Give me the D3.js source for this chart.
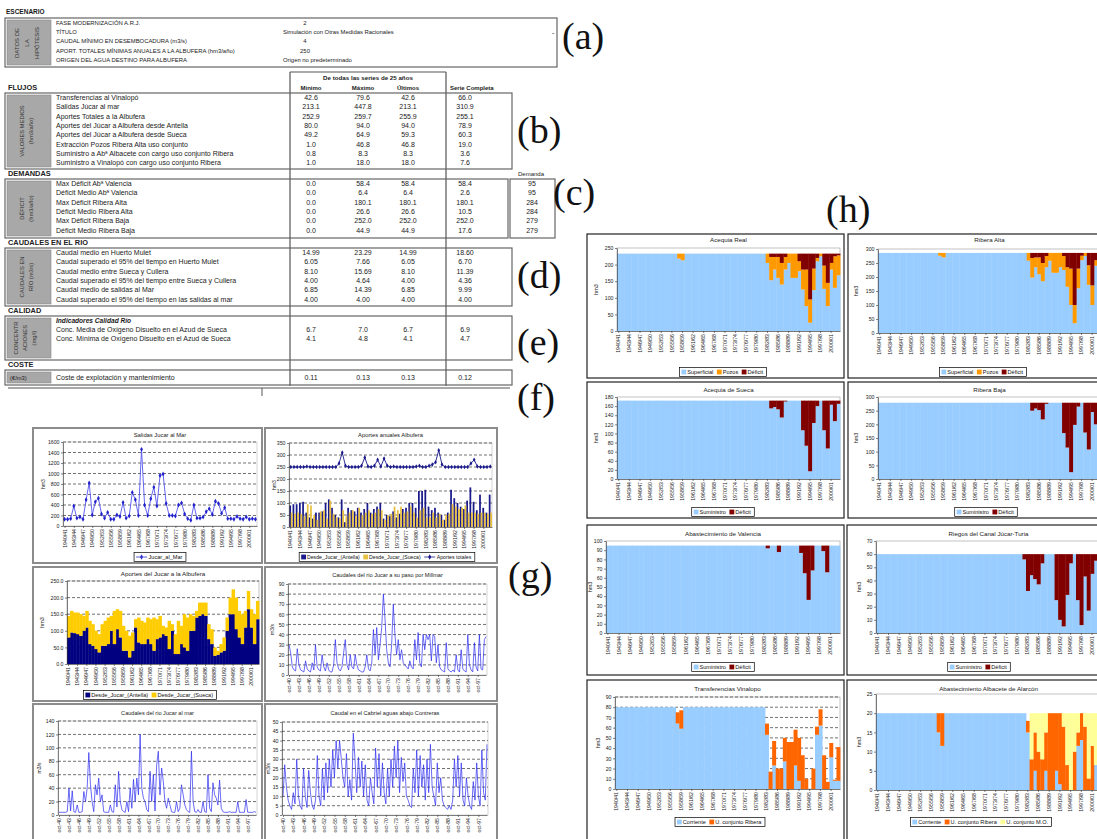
<!DOCTYPE html>
<meta charset="utf-8">
<script src="https://d3js.org/d3.v7.min.js"></script>
<style>
  body { margin: 0; background: #fff; }
  svg { display: block; font-family: "Liberation Sans", Arial, sans-serif; }
  .ax text { font-size: 5.2px; fill: #222; font-family: "Liberation Sans", Arial, sans-serif; }
  .ax path, .ax line { stroke: #333; stroke-width: 0.6; }
</style>
<div id="chart"></div>
<script>
// ---------- table data ----------
var scenarioLabels = ["FASE MODERNIZACIÓN A.R.J.", "TÍTULO", "CAUDAL MÍNIMO EN DESEMBOCADURA (m3/s)",
  "APORT. TOTALES MÍNIMAS ANUALES A LA ALBUFERA (hm3/año)", "ORIGEN DEL AGUA DESTINO PARA ALBUFERA"];
var scenarioValues = ["2", "Simulación con Otras Medidas Racionales", "4", "250", "Origen no predeterminado"];

var flujosLabels = ["Transferencias al Vinalopó", "Salidas Júcar al mar", "Aportes Totales a la Albufera",
  "Aportes del Júcar a Albufera desde Antella", "Aportes del Júcar a Albufera desde Sueca",
  "Extracción Pozos Ribera Alta uso conjunto", "Suministro a Abª Albacete con cargo uso conjunto Ribera",
  "Suministro a Vinalopó con cargo uso conjunto Ribera"];
var flujosMin = ["42.6", "213.1", "252.9", "80.0", "49.2", "1.0", "0.8", "1.0"];
var flujosMax = ["79.6", "447.8", "259.7", "94.0", "64.9", "46.8", "8.3", "18.0"];
var flujosUlt = ["42.6", "213.1", "255.9", "94.0", "59.3", "46.8", "8.3", "18.0"];
var flujosSerie = ["66.0", "310.9", "255.1", "78.9", "60.3", "19.0", "3.6", "7.6"];

var demLabels = ["Max Déficit Abª Valencia", "Déficit Medio Abª Valencia", "Max Déficit Ribera Alta",
  "Déficit Medio Ribera Alta", "Max Déficit Ribera Baja", "Déficit Medio Ribera Baja"];
var demMin = ["0.0", "0.0", "0.0", "0.0", "0.0", "0.0"];
var demMax = ["58.4", "6.4", "180.1", "26.6", "252.0", "44.9"];
var demUlt = ["58.4", "6.4", "180.1", "26.6", "252.0", "44.9"];
var demSerie = ["58.4", "2.6", "180.1", "10.5", "252.0", "17.6"];
var demDemanda = ["95", "95", "284", "284", "279", "279"];

var caudLabels = ["Caudal medio en Huerto Mulet", "Caudal superado el 95% del tiempo en Huerto Mulet",
  "Caudal medio entre Sueca y Cullera", "Caudal superado el 95% del tiempo entre Sueca y Cullera",
  "Caudal medio de salidas al Mar", "Caudal superado el 95% del tiempo en las salidas al mar"];
var caudMin = ["14.99", "6.05", "8.10", "4.00", "6.85", "4.00"];
var caudMax = ["23.29", "7.66", "15.69", "4.64", "14.39", "4.00"];
var caudUlt = ["14.99", "6.05", "8.10", "4.00", "6.85", "4.00"];
var caudSerie = ["18.60", "6.70", "11.39", "4.36", "9.99", "4.00"];

var calLabels = ["Conc. Media de Oxígeno Disuelto en el Azud de Sueca", "Conc. Mínima de Oxígeno Disuelto en el Azud de Sueca"];
var calMin = ["6.7", "4.1"], calMax = ["7.0", "4.8"], calUlt = ["6.7", "4.1"], calSerie = ["6.9", "4.7"];

var costeLabels = ["Coste de explotación y mantenimiento"];
var costeMin = ["0.11"], costeMax = ["0.13"], costeUlt = ["0.13"], costeSerie = ["0.12"];

// ---------- chart data (hydrological years 1940/41 ...) ----------
var years = d3.range(1940, 2003).map(function(y) { return y + "/" + String((y + 1) % 100).padStart(2, "0"); });

var salidasMar = [130,130,140,380,150,170,130,500,820,210, 460,530,230,150,260,130,130,210,180,450,
  150,190,640,500,200,1460,400,200,520,740, 380,960,990,430,200,200,190,400,440,230,
  140,110,400,150,150,170,270,330,220,470, 430,240,350,140,140,130,180,140,130,170, 130,140,130];

var albTotal = [250,250,250,250,250,252,250,250,250,250, 250,250,250,250,250,265,310,255,250,250,
  250,250,255,290,252,250,255,280,252,285, 255,250,252,250,250,250,250,250,250,252,
  255,250,250,255,260,270,320,260,250,250, 250,250,250,250,250,250,265,280,252,250, 250,250,252];
var albAntella = [90,95,95,100,105,60,40,35,60,60, 65,100,115,80,50,40,115,20,80,70,
  65,80,60,75,100,60,75,85,100,35, 50,45,65,40,55,75,80,100,100,80,
  150,150,155,85,70,80,60,50,30,60, 155,120,100,85,75,110,165,105,70,135, 80,60,135];
var albSueca = [60,55,60,55,45,95,90,50,30,65, 70,35,110,55,40,35,70,45,60,70,
  45,80,50,60,70,55,60,75,70,30, 50,55,85,70,85,60,65,85,60,40,
  70,80,40,40,60,40,55,30,50,55, 95,85,75,80,90,60,60,60,55,60, 60,55,60];

var jucAntella = [80,95,93,90,85,100,110,60,55,45, 35,55,55,60,100,60,105,80,40,40,
  20,40,110,65,60,60,75,60,40,75, 80,90,85,45,100,30,30,60,50,40,
  100,100,140,145,150,145,75,60,25,28, 35,40,100,150,150,105,80,60,110,165, 110,60,135];
var jucSueca = [65,65,62,65,65,45,50,70,65,55, 55,65,75,80,45,100,60,80,75,60,
  65,55,25,75,70,65,65,75,100,60, 65,25,25,85,20,60,100,55,100,100,
  50,45,20,40,35,40,45,45,25,12, 25,40,40,50,75,95,80,90,50,55, 55,90,55];

var millmar = [30,22,8,5,4,26,10,5,4,3, 14,6,4,3,12,5,30,8,5,4, 20,8,4,12,5,3,3,10,35,12,
  6,4,8,22,35,10,5,20,8,6, 20,10,5,4,3,3,8,20,6,4, 12,45,20,47,15,30,47,80,55,25,
  12,8,30,70,40,20,35,15,25,12, 10,8,6,14,8,6,35,15,42,12, 8,40,25,40,35,40,14,40,38,12,
  30,8,5,4,3,32,6,4,3,5, 3,20,5,3,25,6,4,3,40,10, 5,3,32,8,4,40,6,5,35,38];
var alMar = [4,4,4,4,4,5,40,6,36,5, 4,15,4,4,5,35,20,40,93,45, 20,5,45,30,55,20,30,5,4,4,
  4,15,5,4,45,12,65,20,8,5, 4,20,5,40,10,53,20,55,30,120, 40,25,20,8,5,65,20,60,6,75,
  95,30,70,50,20,10,25,15,5,4, 4,20,5,10,45,30,15,8,5,4, 95,20,5,4,8,4,4,20,5,4,
  60,10,5,48,30,25,15,52,10,5, 4,4,4,5,4,4,4,4,20,4, 4,4,4,23,4,4,4,4,5,4];
var cabriel = [10,27,15,8,5,3,12,6,30,10, 5,3,25,10,4,24,12,5,3,8, 32,10,5,25,8,28,12,30,15,35,
  20,40,25,40,30,20,15,33,10,19, 8,44,30,12,31,15,29,10,27,8, 5,20,12,6,36,15,33,10,28,12,
  6,25,10,30,15,37,20,40,12,31, 18,28,10,8,5,4,25,12,35,10, 32,15,27,8,30,12,38,15,10,5,
  28,12,20,8,5,4,3,5,3,8, 30,15,32,10,28,8,5,20,10,5, 3,18,8,28,10,5,35,12,8,38];

var arSup = [233,233,233,233,233,233,233,233,233,233, 233,233,233,233,233,233,233,218,213,233,
  233,233,233,233,233,233,233,233,233,233, 233,233,233,233,233,233,233,233,233,233,
  233,233,205,153,185,160,140,185,205,160, 160,180,125,75,25,123,210,225,127,75, 185,130,168];
var arPoz = [0,0,0,0,0,0,0,0,0,0, 0,0,0,0,0,0,0,15,20,0, 0,0,0,0,0,0,0,0,0,0, 0,0,0,0,0,0,0,0,0,0,
  0,0,28,70,38,63,65,38,28,73, 73,30,60,110,70,65,10,8,70,70, 20,95,60];
var arDef = [0,0,0,0,0,0,0,0,0,0, 0,0,0,0,0,0,0,0,0,0, 0,0,0,0,0,0,0,0,0,0, 0,0,0,0,0,0,0,0,0,0,
  0,0,0,10,10,10,28,10,0,0, 0,23,48,48,138,45,13,0,36,88, 28,8,5];

var raSup = [286,286,286,286,286,286,286,286,286,286, 286,286,286,286,286,286,286,276,270,286,
  286,286,286,286,286,286,286,286,286,286, 286,286,286,286,286,286,286,286,286,286,
  286,286,258,198,235,210,185,235,258,215, 215,235,225,165,100,35,160,260,275,172, 100,240,180];
var raPoz = [0,0,0,0,0,0,0,0,0,0, 0,0,0,0,0,0,0,10,16,0, 0,0,0,0,0,0,0,0,0,0, 0,0,0,0,0,0,0,0,0,0,
  0,0,28,70,35,60,65,40,28,71, 71,51,50,70,130,65,70,16,11,70, 70,20,80];
var raDef = [0,0,0,0,0,0,0,0,0,0, 0,0,0,0,0,0,0,0,0,0, 0,0,0,0,0,0,0,0,0,0, 0,0,0,0,0,0,0,0,0,0,
  0,0,0,18,16,16,36,11,0,0, 0,0,11,51,56,186,56,10,0,44, 116,26,26];

var suSup = [172,172,172,172,172,172,172,172,172,172, 172,172,172,172,172,172,172,172,172,172,
  172,172,172,172,172,172,172,172,172,172, 172,172,172,172,172,172,172,172,172,172,
  172,172,172,155,158,153,135,170,172,172, 172,172,107,73,17,123,160,172,107,67, 163,127,165];
var suDef = [0,0,0,0,0,0,0,0,0,0, 0,0,0,0,0,0,0,0,0,0, 0,0,0,0,0,0,0,0,0,0, 0,0,0,0,0,0,0,0,0,0,
  0,0,0,17,14,19,37,2,0,0, 0,0,65,99,155,49,12,0,65,105, 9,45,7];

var rbSup = [279,279,279,279,279,279,279,279,279,279, 279,279,279,279,279,279,279,279,279,279,
  279,279,279,279,279,279,279,279,279,279, 279,279,279,279,279,279,279,279,279,279,
  279,279,279,250,258,252,218,275,279,279, 279,279,168,115,25,198,265,279,170,108, 245,200,265];
var rbDef = [0,0,0,0,0,0,0,0,0,0, 0,0,0,0,0,0,0,0,0,0, 0,0,0,0,0,0,0,0,0,0, 0,0,0,0,0,0,0,0,0,0,
  0,0,0,29,21,27,61,4,0,0, 0,0,111,164,254,81,14,0,109,171, 34,79,14];

var vaSup = [95,95,95,95,95,95,95,95,95,95, 95,95,95,95,95,95,95,95,95,95, 95,95,95,95,95,95,95,95,95,95,
  95,95,95,95,95,95,95,95,95,95, 95,95,95,92,95,95,88,95,95,95, 95,95,87,65,36,68,95,95,89,66, 95,95,95];
var vaDef = [0,0,0,0,0,0,0,0,0,0, 0,0,0,0,0,0,0,0,0,0, 0,0,0,0,0,0,0,0,0,0, 0,0,0,0,0,0,0,0,0,0,
  0,0,0,3,0,0,7,0,0,0, 0,0,8,30,59,27,0,0,6,29, 0,0,0];

var ctSup = [60,60,60,60,60,60,60,60,60,60, 60,60,60,60,60,60,60,60,60,60, 60,60,60,60,60,60,60,60,60,60,
  60,60,60,60,60,60,60,60,60,60, 60,56,32,44,41,37,53,60,60,60, 25,10,5,29,53,60,25,6,43,17, 45,55,50];
var ctDef = [0,0,0,0,0,0,0,0,0,0, 0,0,0,0,0,0,0,0,0,0, 0,0,0,0,0,0,0,0,0,0, 0,0,0,0,0,0,0,0,0,0,
  0,4,28,16,19,23,7,0,0,0, 35,50,55,31,7,0,35,54,17,43, 15,5,10];

var viCor = [80,80,80,80,80,80,80,80,80,80, 80,80,80,80,80,80,80,64,59,80, 80,80,80,80,80,80,80,80,80,80,
  80,80,80,80,80,80,80,80,80,80, 80,80,53,0,23,0,0,27,0,0, 23,8,0,0,0,0,53,62,0,0, 31,8,8];
var viRib = [0,0,0,0,0,0,0,0,0,0, 0,0,0,0,0,0,0,11,18,0, 0,0,0,0,0,0,0,0,0,0, 0,0,0,0,0,0,0,0,0,0,
  0,0,11,17,24,20,20,23,46,46, 35,42,33,10,0,20,8,16,33,7, 14,1,33];

var abCor = [20,20,20,20,20,20,20,20,20,20, 20,20,20,20,20,20,20,15,11.5,20, 20,20,20,20,20,20,20,20,20,20,
  20,20,20,20,20,20,20,20,20,20, 20,20,15,0,5,0,0,5,0,0, 5,1.5,0,0,0,0,11.5,13,0,0, 0,6.5,0];
var abRib = [0,0,0,0,0,0,0,0,0,0, 0,0,0,0,0,0,0,5,8.5,0, 0,0,0,0,0,0,0,0,0,0, 0,0,0,0,0,0,0,0,0,0,
  0,0,3,8,10,10,8,10,20,20, 15,18.5,16.5,6.5,0,10,3.5,7,16.5,3, 11.5,0,3];
var abMO = [0,0,0,0,0,0,0,0,0,0, 0,0,0,0,0,0,0,0,0,0, 0,0,0,0,0,0,0,0,0,0, 0,0,0,0,0,0,0,0,0,0,
  0,0,0,12,5,10,12,5,0,0, 0,0,3.5,13.5,20,10,5,0,3.5,17, 8.5,13.5,17];

// ---------- colours ----------
var cBlue = "#99ccff", cPozos = "#ff9900", cDef = "#800000", cRib = "#ff6600", cMO = "#ffff99";
var cNavy = "#000080", cGold = "#ffcc00";

var svg = d3.select("#chart").append("svg").attr("width", 1097).attr("height", 839);
svg.append("rect").attr("width", 1097).attr("height", 839).attr("fill", "#fff");

function txt(x, y, s, o) {
  o = o || {};
  var t = svg.append("text").attr("x", x).attr("y", y).text(s)
    .attr("font-size", o.size || 7)
    .attr("text-anchor", o.anchor || "start")
    .attr("fill", o.fill || "#1a1a1a");
  if (o.bold) t.attr("font-weight", "bold");
  if (o.italic) t.attr("font-style", "italic");
  if (o.family) t.attr("font-family", o.family);
  if (o.rot) t.attr("transform", "rotate(" + o.rot + "," + x + "," + y + ")");
  return t;
}
function rect(x0, y0, x1, y1, fill, stroke, sw) {
  return svg.append("rect").attr("x", x0).attr("y", y0).attr("width", x1 - x0).attr("height", y1 - y0)
    .attr("fill", fill).attr("stroke", stroke || "none").attr("stroke-width", sw || 1);
}
function line(x1, y1, x2, y2, stroke, sw) {
  svg.append("line").attr("x1", x1).attr("y1", y1).attr("x2", x2).attr("y2", y2)
    .attr("stroke", stroke).attr("stroke-width", sw);
}

// ================= TABLE =================
var colX = [311, 363, 408, 465];

txt(6, 14, "ESCENARIO", { bold: true, size: 6.5 });
rect(5, 18, 557, 67, "#fff", "#666", 1.2);
rect(7, 20, 51, 65, "#a8a8a8", "#888", 0.6);
["DATOS DE", "LA", "HIPÓTESIS"].forEach(function(s, i) {
  txt(19 + i * 10, 43, s, { rot: -90, anchor: "middle", size: 6, fill: "#333" });
});
scenarioLabels.forEach(function(s, i) { txt(56, 25 + i * 9.2, s, { size: 5.9 }); });
scenarioValues.forEach(function(s, i) {
  if (i === 1 || i === 4) txt(283, 25 + i * 9.2, s, { size: 5.9 });
  else txt(305, 25 + i * 9.2, s, { anchor: "middle", size: 5.9 });
});
txt(552, 35, "-", { size: 7 });

// column header + long vertical rules
line(290, 72, 446, 72, "#555", 1.2);
line(290, 72, 290, 386, "#555", 1.2);
line(446, 72, 446, 386, "#555", 1.2);
txt(368, 80, "De todas las series de 25 años", { bold: true, anchor: "middle", size: 6.2 });
["Mínimo", "Máximo", "Últimos"].forEach(function(s, i) { txt(colX[i], 89.5, s, { bold: true, anchor: "middle", size: 6 }); });
txt(450, 89.5, "Serie Completa", { bold: true, size: 6 });

function section(title, ty, y0, y1, x1, side, labels, cols, r0, dy, sideX) {
  txt(8, ty, title, { bold: true, size: 7.4, fill: "#222" });
  rect(5, y0, x1, y1, "none", "#666", 1.2);
  rect(7, y0 + 2, 51, y1 - 2, "#a8a8a8", "#888", 0.6);
  side.forEach(function(s, i) {
    txt(sideX[i], (y0 + y1) / 2, s, { rot: -90, anchor: "middle", size: 5.8, fill: "#333" });
  });
  labels.forEach(function(s, i) { txt(56, r0 + i * dy, s); });
  cols.forEach(function(c, j) {
    c.forEach(function(v, i) { txt(colX[j], r0 + i * dy, v, { anchor: "middle" }); });
  });
}

section("FLUJOS", 90, 93, 169, 512, ["VALORES MEDIOS", "(hm3/año)"], flujosLabels,
  [flujosMin, flujosMax, flujosUlt, flujosSerie], 100, 9.3, [24, 33]);

section("DEMANDAS", 176, 179, 238, 508, ["DÉFICIT", "(hm3/año)"], demLabels,
  [demMin, demMax, demUlt, demSerie], 186, 9.3, [24, 33]);
txt(518, 176, "Demanda", { size: 6 });
rect(510, 179, 555, 238, "none", "#666", 1.2);
demDemanda.forEach(function(v, i) { txt(532, 186 + i * 9.3, v, { anchor: "middle" }); });

section("CAUDALES EN EL RIO", 245, 248, 306, 512, ["CAUDALES EN", "RÍO (m3/s)"], caudLabels,
  [caudMin, caudMax, caudUlt, caudSerie], 255, 9.3, [24, 33]);

section("CALIDAD", 313, 316, 360, 512, ["CONCENTR", "ACIONES", "(mg/l)"], calLabels,
  [calMin, calMax, calUlt, calSerie], 332, 9.3, [18, 27, 36]);
txt(56, 323, "Indicadores Calidad Río", { italic: true, bold: true, size: 6.6 });

txt(8, 367, "COSTE", { bold: true, size: 7.4, fill: "#222" });
rect(5, 370, 512, 385, "none", "#666", 1.2);
rect(7, 372, 51, 383, "#a8a8a8", "#888", 0.6);
txt(10, 380, "(€/m3)", { size: 5.8 });
costeLabels.forEach(function(s) { txt(56, 380, s); });
[costeMin, costeMax, costeUlt, costeSerie].forEach(function(c, j) { txt(colX[j], 380, c[0], { anchor: "middle" }); });
line(8, 388, 510, 388, "#555", 1);
line(262, 388, 262, 396, "#555", 1);

// ================= CHART HELPERS =================
function yAxis(x0, y, ticks, fmt) {
  svg.append("g").attr("class", "ax").attr("transform", "translate(" + x0 + ",0)")
    .call(d3.axisLeft(y).tickValues(ticks).tickSize(2).tickSizeOuter(0).tickPadding(1.5).tickFormat(fmt || d3.format("d")));
}
function xAxisRot(yPos, scale, vals, fmt) {
  var ax = d3.axisBottom(scale).tickValues(vals).tickSize(2).tickSizeOuter(0);
  if (fmt) ax.tickFormat(fmt);
  svg.append("g").attr("class", "ax").attr("transform", "translate(0," + yPos + ")").call(ax)
    .selectAll("text").attr("transform", "rotate(-90)").attr("text-anchor", "end")
    .attr("x", -3).attr("y", 0).attr("dy", "0.32em");
}
function legend(cx, cy, items, fs) {
  var g = svg.append("g");
  var x = 2;
  items.forEach(function(it) {
    if (it.type === "line") {
      g.append("line").attr("x1", x).attr("x2", x + 11).attr("y1", 0).attr("y2", 0).attr("stroke", it.color).attr("stroke-width", 0.8);
      g.append("path").attr("d", d3.symbol(d3.symbolDiamond, 8)()).attr("transform", "translate(" + (x + 5.5) + ",0)").attr("fill", it.color);
      x += 12.5;
    } else {
      g.append("rect").attr("x", x).attr("y", -2.4).attr("width", 4.8).attr("height", 4.8).attr("fill", it.color);
      x += 5.8;
    }
    var t = g.append("text").attr("x", x).attr("y", 2).attr("font-size", fs || 5.6).attr("fill", "#111").text(it.name);
    x += t.node().getComputedTextLength() + 3.5;
  });
  g.insert("rect", ":first-child").attr("x", 0).attr("y", -4.5).attr("width", x).attr("height", 9)
    .attr("fill", "#fff").attr("stroke", "#000").attr("stroke-width", 0.7);
  g.attr("transform", "translate(" + (cx - x / 2) + "," + cy + ")");
}
function dashedGrid(y, ticks, x0, x1) {
  svg.append("g").selectAll("line").data(ticks.filter(function(t) { return t > 0; })).join("line")
    .attr("x1", x0).attr("x2", x1).attr("y1", function(d) { return y(d); }).attr("y2", function(d) { return y(d); })
    .attr("stroke", "#111").attr("stroke-width", 0.6).attr("stroke-dasharray", "3,2");
}
var yearTicks = years.filter(function(d, i) { return i % 3 === 0 && i <= 60; });
var tk = function(max, step) { return d3.range(0, max + 0.001, step); };

// stacked bar chart over the years (section h and g3)
function stackChart(p) {
  rect(p.frame[0], p.frame[1], p.frame[2], p.frame[3], "#fff", p.frameColor || "#222", p.frameW || 1.2);
  var n = p.series[0].values.length;
  var x = d3.scaleBand().domain(years.slice(0, n)).range([p.plot[0], p.plot[2]]);
  var y = d3.scaleLinear().domain([0, p.max]).range([p.plot[3], p.plot[1]]);
  rect(p.plot[0], p.plot[1], p.plot[2], p.plot[3], "#fff", "#999", 0.6);
  if (p.grid) dashedGrid(y, p.ticks, p.plot[0], p.plot[2]);
  var rows = years.slice(0, n).map(function(yr, i) {
    var o = { yr: yr };
    p.series.forEach(function(s) { o[s.name] = s.values[i]; });
    return o;
  });
  var st = d3.stack().keys(p.series.map(function(s) { return s.name; }))(rows);
  st.forEach(function(layer, k) {
    svg.append("g").selectAll("rect").data(layer).join("rect")
      .attr("x", function(d) { return x(d.data.yr); })
      .attr("width", x.bandwidth() + 0.4)
      .attr("y", function(d) { return y(d[1]); })
      .attr("height", function(d) { return Math.max(0, y(d[0]) - y(d[1])); })
      .attr("fill", p.series[k].color);
  });
  yAxis(p.plot[0], y, p.ticks, p.fmt);
  xAxisRot(p.plot[3], x, yearTicks);
  txt((p.plot[0] + p.plot[2]) / 2, p.titleY, p.title, { anchor: "middle", size: 6.2 });
  txt(p.ytX, (p.plot[1] + p.plot[3]) / 2, p.ytitle || "hm3", { rot: -90, anchor: "middle", size: 5.5 });
  legend(p.legend[0], p.legend[1], p.series.map(function(s) { return { name: s.name, color: s.color }; }));
}

// ================= SECTION (h) =================
stackChart({ frame: [587, 234, 844, 378], plot: [617, 248, 840, 331], title: "Acequia Real", titleY: 242,
  max: 250, ticks: tk(250, 50), ytX: 598, legend: [723, 372],
  series: [{ name: "Superficial", values: arSup, color: cBlue }, { name: "Pozos", values: arPoz, color: cPozos }, { name: "Déficit", values: arDef, color: cDef }] });
stackChart({ frame: [848, 234, 1110, 378], plot: [878, 249, 1101, 333], title: "Ribera Alta", titleY: 242,
  max: 300, ticks: tk(300, 50), ytX: 858, legend: [983, 372],
  series: [{ name: "Superficial", values: raSup, color: cBlue }, { name: "Pozos", values: raPoz, color: cPozos }, { name: "Déficit", values: raDef, color: cDef }] });

stackChart({ frame: [587, 382, 844, 518], plot: [617, 397, 840, 479], title: "Acequia de Sueca", titleY: 392,
  max: 180, ticks: tk(180, 20), ytX: 598, legend: [723, 512],
  series: [{ name: "Suministro", values: suSup, color: cBlue }, { name: "Déficit", values: suDef, color: cDef }] });
stackChart({ frame: [848, 382, 1110, 518], plot: [878, 397, 1101, 479], title: "Ribera Baja", titleY: 392,
  max: 300, ticks: tk(300, 50), ytX: 858, legend: [986, 512],
  series: [{ name: "Suministro", values: rbSup, color: cBlue }, { name: "Déficit", values: rbDef, color: cDef }] });

stackChart({ frame: [587, 525, 844, 675], plot: [606, 541, 840, 633], title: "Abastecimiento de Valencia", titleY: 536,
  max: 100, ticks: tk(100, 10), ytX: 592, legend: [723, 667],
  series: [{ name: "Suministro", values: vaSup, color: cBlue }, { name: "Déficit", values: vaDef, color: cDef }] });
stackChart({ frame: [847, 525, 1110, 675], plot: [876, 541, 1101, 633], title: "Riegos del Canal Júcar-Turia", titleY: 536,
  max: 70, ticks: tk(70, 10), ytX: 861, legend: [979, 667],
  series: [{ name: "Suministro", values: ctSup, color: cBlue }, { name: "Déficit", values: ctDef, color: cDef }] });

stackChart({ frame: [587, 680, 844, 845], plot: [615, 697, 840, 789], title: "Transferencias Vinalopo", titleY: 691,
  max: 90, ticks: tk(90, 10), ytX: 600, legend: [720, 822], grid: true,
  series: [{ name: "Corriente", values: viCor, color: cBlue }, { name: "U. conjunto Ribera", values: viRib, color: cRib }] });
stackChart({ frame: [847, 680, 1110, 845], plot: [876, 694, 1101, 790], title: "Abastecimiento Albacete de Alarcón", titleY: 691,
  max: 25, ticks: tk(25, 5), ytX: 861, legend: [981, 822],
  series: [{ name: "Corriente", values: abCor, color: cBlue }, { name: "U. conjunto Ribera", values: abRib, color: cRib }, { name: "U. conjunto M.O.", values: abMO, color: cMO }] });

// ================= SECTION (g) =================
function gFrame(f) { rect(f[0], f[1], f[2], f[3], "#fff", "#8c8c8c", 2); }

// g1: Salidas Jucar al Mar
(function() {
  var pl = [63, 442, 257, 526];
  gFrame([33, 428, 262, 563]);
  var x = d3.scalePoint().domain(years.slice(0, salidasMar.length)).range([pl[0], pl[2]]).padding(0.5);
  var y = d3.scaleLinear().domain([0, 1600]).range([pl[3], pl[1]]);
  rect(pl[0], pl[1], pl[2], pl[3], "#fff", "#aaa", 0.5);
  dashedGrid(y, tk(1600, 200), pl[0], pl[2]);
  svg.append("path").datum(salidasMar).attr("fill", "none").attr("stroke", "#5555ee").attr("stroke-width", 0.9)
    .attr("d", d3.line().x(function(d, i) { return x(years[i]); }).y(function(d) { return y(d); }));
  svg.append("g").selectAll("path").data(salidasMar).join("path")
    .attr("d", d3.symbol(d3.symbolDiamond, 7)())
    .attr("transform", function(d, i) { return "translate(" + x(years[i]) + "," + y(d) + ")"; })
    .attr("fill", "#2222cc");
  yAxis(pl[0], y, tk(1600, 200));
  xAxisRot(pl[3], x, yearTicks);
  txt((pl[0] + pl[2]) / 2, 437, "Salidas Jucar al Mar", { anchor: "middle", size: 5.8 });
  txt(45, (pl[1] + pl[3]) / 2, "hm3", { rot: -90, anchor: "middle", size: 5 });
  legend(160, 557, [{ name: "Jucar_al_Mar", color: "#3333cc", type: "line" }]);
})();

// g2: Aportes anuales Albufera
(function() {
  var pl = [289, 443, 492, 527];
  gFrame([265, 428, 497, 563]);
  var n = albTotal.length;
  var x = d3.scaleBand().domain(years.slice(0, n)).range([pl[0], pl[2]]).padding(0.1);
  var xs = d3.scaleBand().domain(["a", "s"]).range([0, x.bandwidth()]);
  var y = d3.scaleLinear().domain([0, 350]).range([pl[3], pl[1]]);
  rect(pl[0], pl[1], pl[2], pl[3], "#fff", "#aaa", 0.5);
  dashedGrid(y, tk(350, 50), pl[0], pl[2]);
  svg.append("g").selectAll("rect").data(albAntella).join("rect")
    .attr("x", function(d, i) { return x(years[i]) + xs("a"); }).attr("width", xs.bandwidth() + 0.3)
    .attr("y", function(d) { return y(d); }).attr("height", function(d) { return y(0) - y(d); }).attr("fill", "#1a1a8c");
  svg.append("g").selectAll("rect").data(albSueca).join("rect")
    .attr("x", function(d, i) { return x(years[i]) + xs("s"); }).attr("width", xs.bandwidth() + 0.3)
    .attr("y", function(d) { return y(d); }).attr("height", function(d) { return y(0) - y(d); }).attr("fill", "#e8c040");
  var cx = function(i) { return x(years[i]) + x.bandwidth() / 2; };
  svg.append("path").datum(albTotal).attr("fill", "none").attr("stroke", "#1a1a8c").attr("stroke-width", 0.9)
    .attr("d", d3.line().x(function(d, i) { return cx(i); }).y(function(d) { return y(d); }));
  svg.append("g").selectAll("path").data(albTotal).join("path")
    .attr("d", d3.symbol(d3.symbolDiamond, 6)())
    .attr("transform", function(d, i) { return "translate(" + cx(i) + "," + y(d) + ")"; }).attr("fill", "#1a1a8c");
  yAxis(pl[0], y, tk(350, 50));
  xAxisRot(pl[3], x, yearTicks);
  txt((pl[0] + pl[2]) / 2, 437, "Aportes anuales Albufera", { anchor: "middle", size: 5.8 });
  txt(276, (pl[1] + pl[3]) / 2, "hm3", { rot: -90, anchor: "middle", size: 5 });
  legend(387, 557, [{ name: "Desde_Jucar_(Antella)", color: "#1a1a8c" }, { name: "Desde_Jucar_(Sueca)", color: "#e8c040" },
    { name: "Aportes totales", color: "#1a1a8c", type: "line" }], 5.2);
})();

// g3: Aportes del Jucar a la Albufera (stacked)
stackChart({ frame: [33, 567, 262, 701], frameColor: "#8c8c8c", frameW: 2, plot: [67, 581, 259, 664],
  title: "Aportes del Jucar a la Albufera", titleY: 576, max: 250, ticks: tk(250, 50), fmt: d3.format(".1f"),
  ytX: 44, grid: true, legend: [150, 695],
  series: [{ name: "Desde_Jucar_(Antella)", values: jucAntella, color: cNavy }, { name: "Desde_Jucar_(Sueca)", values: jucSueca, color: cGold }] });

// monthly flow charts
function monthChart(f, pl, title, titleY, vals, max, step, ytX) {
  gFrame(f);
  var x = d3.scaleLinear().domain([0, vals.length - 1]).range([pl[0] + 1, pl[2] - 1]);
  var y = d3.scaleLinear().domain([0, max]).range([pl[3], pl[1]]);
  rect(pl[0], pl[1], pl[2], pl[3], "#fff", "#aaa", 0.5);
  dashedGrid(y, tk(max, step), pl[0], pl[2]);
  svg.append("path").datum(vals).attr("fill", "none").attr("stroke", "#2b2bf0").attr("stroke-width", 0.7)
    .attr("d", d3.line().x(function(d, i) { return x(i); }).y(function(d) { return y(d); }));
  yAxis(pl[0], y, tk(max, step));
  var mt = d3.range(0, vals.length, 6);
  xAxisRot(pl[3], x, mt, function(i) { return "oct-" + String((40 + i / 2) % 100).padStart(2, "0"); });
  txt((pl[0] + pl[2]) / 2, titleY, title, { anchor: "middle", size: 5.6 });
  txt(ytX, (pl[1] + pl[3]) / 2, "m3/s", { rot: -90, anchor: "middle", size: 5 });
}
monthChart([265, 567, 497, 701], [288, 584, 487, 675], "Caudales del rio Jucar a su paso por Millmar", 577, millmar, 90, 10, 274);
monthChart([33, 704, 262, 845], [58, 721, 257, 815], "Caudales del rio Jucar al mar", 715, alMar, 140, 20, 41);
monthChart([265, 704, 497, 845], [282, 722, 488, 815], "Caudal en el Cabriel aguas abajo Contreras", 715, cabriel, 50, 5, 270);

// ================= PANEL LETTERS =================
var serif = "'Liberation Serif', 'DejaVu Serif', serif";
[["(a)", 562, 49], ["(b)", 517, 143], ["(c)", 553, 205], ["(d)", 517, 288], ["(e)", 517, 355],
 ["(f)", 517, 410], ["(g)", 508, 588], ["(h)", 826, 222]].forEach(function(l) {
  txt(l[1], l[2], l[0], { size: 38, family: serif, fill: "#111" });
});
</script>
